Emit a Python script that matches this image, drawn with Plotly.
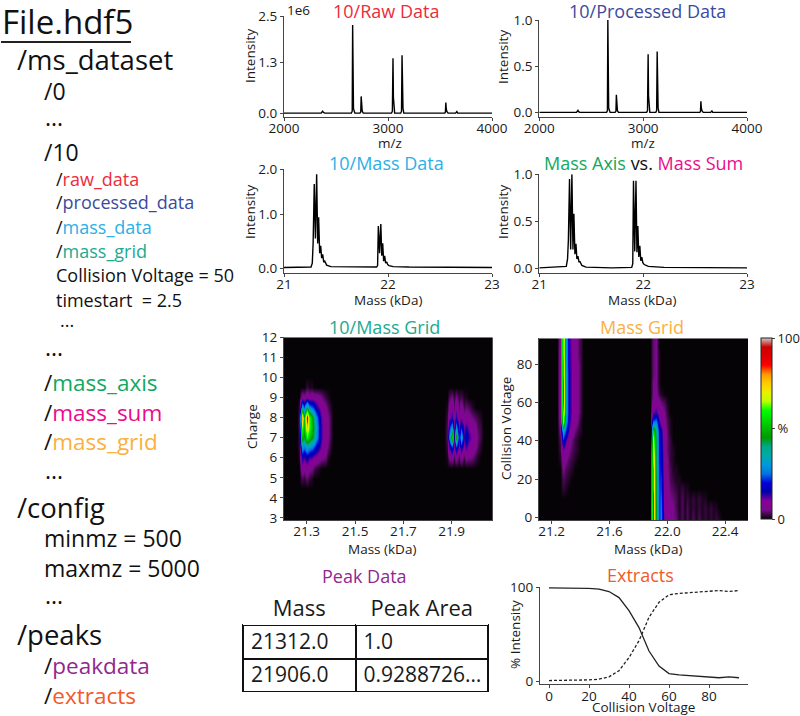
import numpy as np
import plotly.graph_objects as go

# ---------- data ----------
mz = [2000, 2358, 2366, 2372, 2378, 2392, 2440, 2446, 2452, 2648, 2656, 2660, 2664, 2668, 2674, 2682, 2730, 2738, 2742,
      2746, 2752, 2762, 3034, 3042, 3048, 3052, 3056, 3064, 3122, 3130, 3135, 3139, 3144, 3152, 3546, 3552, 3556, 3560,
      3566, 3578, 3650, 3656, 3662, 3670, 4000]
raw_intensity = [0.0, 0.0, 0.03, 0.05, 0.02, 0.0, 0.0, 0.01, 0.0, 0.0, 0.05, 2.27, 0.5, 0.12, 0.06, 0.0, 0.0, 0.03, 0.43,
                 0.15, 0.05, 0.0, 0.0, 0.05, 1.41, 0.4, 0.1, 0.0, 0.0, 0.05, 1.49, 0.4, 0.12, 0.0, 0.0, 0.03, 0.27,
                 0.12, 0.04, 0.0, 0.0, 0.02, 0.04, 0.0, 0.0]
proc_intensity = [0.0, 0.0, 0.012, 0.022, 0.008, 0.0, 0.0, 0.005, 0.0, 0.0, 0.02, 1.0, 0.22, 0.05, 0.025, 0.0, 0.0, 0.012,
                  0.19, 0.065, 0.02, 0.0, 0.0, 0.02, 0.63, 0.18, 0.045, 0.0, 0.0, 0.02, 0.66, 0.18, 0.05, 0.0, 0.0,
                  0.012, 0.12, 0.05, 0.018, 0.0, 0.0, 0.008, 0.016, 0.0, 0.0]

mass = [21.0, 21.26, 21.272, 21.28, 21.291, 21.302, 21.314, 21.324, 21.333, 21.343, 21.353, 21.362, 21.372, 21.382, 21.392,
        21.41, 21.45, 21.7, 21.89, 21.9, 21.907, 21.919, 21.931, 21.94, 21.949, 21.958, 21.968, 21.977, 21.987, 21.997,
        22.01, 22.05, 22.2, 23.0]
mass_data_y = [0.01, 0.02, 0.1, 0.5, 1.7, 0.6, 1.9, 0.5, 1.03, 0.3, 0.45, 0.2, 0.28, 0.12, 0.14, 0.06, 0.03, 0.02, 0.02,
               0.05, 0.85, 0.3, 0.89, 0.25, 0.5, 0.14, 0.25, 0.1, 0.13, 0.07, 0.05, 0.03, 0.02, 0.01]
mass_sum_y = [0.005, 0.02, 0.1, 0.3, 0.95, 0.2, 1.0, 0.2, 0.58, 0.15, 0.26, 0.1, 0.13, 0.07, 0.07, 0.03, 0.012, 0.005, 0.01,
              0.05, 0.93, 0.18, 0.93, 0.17, 0.45, 0.12, 0.24, 0.08, 0.12, 0.06, 0.04, 0.02, 0.01, 0.005]

# 10/Mass Grid: typed patches of the charge / mass map (% intensity)
charge_levels = [5.0, 5.5, 6.0, 6.5, 7.0, 7.5, 8.0, 8.5, 9.0, 9.5]
blob_a_start = 21.27
blob_a = [
    [0, 3, 2, 4, 2, 1, 0, 0, 0, 0, 0, 0, 0, 0, 0],
    [0, 8, 6, 8, 6, 5, 3, 2, 1, 0, 0, 0, 0, 0, 0],
    [1, 15, 13, 16, 13, 12, 10, 9, 7, 6, 5, 4, 1, 0, 0],
    [2, 30, 26, 32, 29, 26, 22, 18, 14, 11, 7, 6, 4, 1, 0],
    [2, 50, 44, 60, 52, 46, 40, 30, 20, 13, 9, 7, 5, 2, 0],
    [3, 62, 50, 76, 62, 50, 42, 32, 20, 13, 9, 7, 5, 2, 0],
    [3, 78, 50, 90, 62, 48, 38, 28, 18, 12, 8, 6, 5, 2, 0],
    [2, 32, 24, 42, 28, 24, 20, 15, 11, 9, 6, 5, 3, 1, 0],
    [0, 7, 6, 8, 7, 8, 7, 7, 6, 5, 3, 2, 1, 0, 0],
    [0, 0, 0, 2, 1, 1, 0, 0, 0, 0, 0, 0, 0, 0, 0],
]
blob_b_start = 21.88
blob_b = [
    [0, 0, 0, 0, 0, 0, 0, 0, 0, 0, 0, 0, 0, 0, 0, 0],
    [0, 0, 0, 0, 0, 0, 0, 0, 0, 0, 0, 0, 0, 0, 0, 0],
    [1, 5, 7, 3, 7, 3, 7, 3, 6, 5, 5, 4, 2, 1, 0, 0],
    [2, 12, 20, 9, 20, 9, 17, 9, 13, 9, 9, 7, 5, 3, 1, 0],
    [3, 26, 55, 15, 48, 14, 34, 14, 18, 13, 11, 9, 6, 4, 2, 0],
    [3, 20, 30, 12, 28, 11, 20, 11, 14, 10, 9, 7, 5, 3, 2, 0],
    [2, 9, 14, 6, 14, 6, 10, 6, 7, 6, 5, 4, 3, 2, 1, 0],
    [1, 6, 9, 4, 9, 4, 7, 3, 4, 3, 2, 1, 0, 0, 0, 0],
    [0, 3, 5, 2, 5, 2, 3, 1, 1, 0, 0, 0, 0, 0, 0, 0],
    [0, 0, 0, 0, 0, 0, 0, 0, 0, 0, 0, 0, 0, 0, 0, 0],
]

# Mass Grid: typed patches of the collision voltage / mass map (% intensity)
cv_levels = [0, 5, 10, 15, 20, 25, 30, 35, 40, 45, 50, 55, 60, 65, 70, 75, 80, 85, 90, 95]
cv_a_start = 21.26
cv_a = [
    [0, 0, 0, 0, 0, 0, 0, 0], [0, 0, 0, 0, 0, 0, 0, 0], [0, 0, 0, 0, 0, 0, 0, 0],
    [0, 2, 1, 0, 0, 0, 0, 0], [0, 3, 2, 1, 0, 0, 0, 0], [0, 5, 3, 2, 1, 0, 0, 0],
    [1, 7, 5, 3, 2, 1, 0, 0], [2, 11, 8, 5, 3, 2, 1, 0], [3, 20, 12, 7, 4, 2, 1, 0],
    [5, 32, 20, 11, 7, 4, 2, 1], [7, 68, 30, 14, 9, 7, 4, 1], [8, 80, 34, 15, 10, 8, 5, 2],
    [8, 84, 34, 15, 10, 8, 5, 2], [8, 86, 34, 15, 10, 8, 5, 2], [8, 84, 34, 15, 10, 8, 5, 2],
    [8, 82, 34, 15, 10, 8, 5, 2], [8, 82, 32, 14, 10, 8, 5, 2], [8, 80, 32, 14, 10, 7, 4, 2],
    [7, 80, 32, 14, 9, 7, 4, 2], [7, 80, 32, 14, 9, 7, 4, 2],
]
cv_b_start = 21.90
cv_b = [
    [86, 44, 22, 26, 11, 8, 7, 5, 4, 1, 3, 1, 3, 1, 3, 1, 3, 1, 2, 1, 2, 1, 2, 1, 0],
    [88, 44, 22, 25, 10, 8, 6, 5, 3, 1, 3, 1, 3, 1, 2, 1, 2, 1, 2, 1, 2, 1, 1, 0, 0],
    [86, 43, 22, 24, 10, 7, 5, 4, 3, 1, 3, 1, 2, 1, 2, 1, 2, 1, 1, 0, 0, 0, 0, 0, 0],
    [82, 43, 22, 22, 9, 6, 4, 3, 2, 1, 2, 1, 1, 0, 0, 0, 0, 0, 0, 0, 0, 0, 0, 0, 0],
    [82, 43, 21, 22, 8, 6, 3, 2, 1, 1, 0, 0, 0, 0, 0, 0, 0, 0, 0, 0, 0, 0, 0, 0, 0],
    [82, 42, 21, 20, 8, 5, 3, 1, 1, 0, 0, 0, 0, 0, 0, 0, 0, 0, 0, 0, 0, 0, 0, 0, 0],
    [78, 42, 20, 20, 7, 5, 2, 1, 0, 0, 0, 0, 0, 0, 0, 0, 0, 0, 0, 0, 0, 0, 0, 0, 0],
    [74, 42, 20, 18, 7, 4, 2, 1, 0, 0, 0, 0, 0, 0, 0, 0, 0, 0, 0, 0, 0, 0, 0, 0, 0],
    [68, 42, 19, 17, 7, 4, 2, 0, 0, 0, 0, 0, 0, 0, 0, 0, 0, 0, 0, 0, 0, 0, 0, 0, 0],
    [56, 40, 18, 15, 7, 4, 1, 0, 0, 0, 0, 0, 0, 0, 0, 0, 0, 0, 0, 0, 0, 0, 0, 0, 0],
    [24, 26, 13, 9, 6, 3, 1, 0, 0, 0, 0, 0, 0, 0, 0, 0, 0, 0, 0, 0, 0, 0, 0, 0, 0],
    [11, 13, 8, 7, 5, 2, 0, 0, 0, 0, 0, 0, 0, 0, 0, 0, 0, 0, 0, 0, 0, 0, 0, 0, 0],
    [7, 8, 6, 4, 3, 1, 0, 0, 0, 0, 0, 0, 0, 0, 0, 0, 0, 0, 0, 0, 0, 0, 0, 0, 0],
    [5, 6, 2, 1, 0, 0, 0, 0, 0, 0, 0, 0, 0, 0, 0, 0, 0, 0, 0, 0, 0, 0, 0, 0, 0],
    [5, 5, 1, 0, 0, 0, 0, 0, 0, 0, 0, 0, 0, 0, 0, 0, 0, 0, 0, 0, 0, 0, 0, 0, 0],
    [4, 5, 1, 0, 0, 0, 0, 0, 0, 0, 0, 0, 0, 0, 0, 0, 0, 0, 0, 0, 0, 0, 0, 0, 0],
    [4, 5, 1, 0, 0, 0, 0, 0, 0, 0, 0, 0, 0, 0, 0, 0, 0, 0, 0, 0, 0, 0, 0, 0, 0],
    [4, 5, 1, 0, 0, 0, 0, 0, 0, 0, 0, 0, 0, 0, 0, 0, 0, 0, 0, 0, 0, 0, 0, 0, 0],
    [4, 5, 0, 0, 0, 0, 0, 0, 0, 0, 0, 0, 0, 0, 0, 0, 0, 0, 0, 0, 0, 0, 0, 0, 0],
    [4, 5, 0, 0, 0, 0, 0, 0, 0, 0, 0, 0, 0, 0, 0, 0, 0, 0, 0, 0, 0, 0, 0, 0, 0],
]

extract_cv = [0, 5, 10, 15, 20, 25, 30, 35, 40, 45, 50, 55, 60, 65, 70, 75, 80, 85, 90, 95]
extract_solid = [99.5, 99.5, 99.4, 99.2, 98.8, 98, 95.5, 89, 75, 57, 32, 16, 8, 6.5, 5.8, 4.8, 4, 3.5, 4.5, 3.5]
extract_dashed = [0.5, 0.5, 0.6, 0.8, 1.2, 2, 4.5, 11, 25, 43, 68, 84, 92, 93.5, 94.2, 95.2, 96, 96.5, 95.5, 96.5]

table_mass = ["21312.0", "21906.0"]
table_area = ["1.0", "0.9288726…"]

RED, NAVY, SKY, TEAL = "#EE2B3B", "#3B4A9F", "#29B0E6", "#1BAA92"
GREEN, PINK, ORANGE, PURPLE, FLAME = "#12A85F", "#EC0B8C", "#FBB040", "#92278F", "#F15A29"


def span(t, c):
    return f'<span style="color:{c}">{t}</span>'


tree = [
    ("File.hdf5", 0, 21, 33), ("/ms_dataset", 15, 60, 27.5), ("/0", 42, 91, 23), ("...", 43, 117, 23), ("/10", 42, 152, 23),
    ("/" + span("raw_data", RED), 54, 179, 18), ("/" + span("processed_data", NAVY), 54, 202, 18),
    ("/" + span("mass_data", SKY), 54, 227, 18), ("/" + span("mass_grid", TEAL), 54, 251, 18),
    ("Collision Voltage = 50", 54, 275, 18), ("timestart  = 2.5", 54, 300, 18), ("...", 58, 320, 18), ("...", 43, 347, 23),
    ("/" + span("mass_axis", GREEN), 42, 382, 22.5), ("/" + span("mass_sum", PINK), 42, 412, 22.5),
    ("/" + span("mass_grid", ORANGE), 42, 441, 22.5), ("...", 43, 470, 23), ("/config", 15, 507, 27.5),
    ("minmz = 500", 42, 538, 23), ("maxmz = 5000", 42, 568, 23), ("...", 43, 595, 23), ("/peaks", 15, 634, 27.5),
    ("/" + span("peakdata", PURPLE), 42, 665, 22.5), ("/" + span("extracts", FLAME), 42, 695, 22.5),
]
titles = [
    (span("10/Raw Data", RED), 386, 11), (span("10/Processed Data", NAVY), 647, 11), (span("10/Mass Data", SKY), 386, 163),
    (span("Mass Axis", GREEN) + " vs. " + span("Mass Sum", PINK), 643, 163), (span("10/Mass Grid", TEAL), 384, 327),
    (span("Mass Grid", ORANGE), 642, 327), (span("Peak Data", PURPLE), 364, 576), (span("Extracts", FLAME), 640, 575),
]
axis_titles = [
    ("m/z", 390, 143, 0), ("m/z", 643, 143, 0), ("Intensity", 250, 56, -90), ("Intensity", 503, 57, -90),
    ("Mass (kDa)", 388, 300, 0), ("Mass (kDa)", 642, 300, 0), ("Intensity", 250, 212, -90), ("Intensity", 503, 212, -90),
    ("Charge", 252, 427, -90), ("Mass (kDa)", 382, 549, 0), ("Mass (kDa)", 648, 549, 0),
    ("Collision Voltage", 506, 428, -90), ("Collision Voltage", 643, 707, 0), ("% Intensity", 515, 635, -90),
]

W, H = 800, 716
FONT = "Open Sans"
INK = "#1a1a1a"
AX = "#444444"

spectral = [[0.0, "#060306"], [0.05, "#7a0a8c"], [0.1, "#880099"], [0.15, "#0000aa"], [0.2, "#0000dd"], [0.25, "#0077dd"],
            [0.3, "#0099dd"], [0.35, "#00aaaa"], [0.4, "#00aa88"], [0.45, "#009900"], [0.5, "#00bb00"], [0.55, "#00dd00"],
            [0.6, "#00ff00"], [0.65, "#bbff00"], [0.7, "#eeee00"], [0.75, "#ffcc00"], [0.8, "#ff9900"], [0.85, "#ff0000"],
            [0.9, "#dd0000"], [0.95, "#cc0000"], [1.0, "#cccccc"]]


def place(grid_x, grid_y, patches, y_levels):
    z = np.zeros((len(grid_y), len(grid_x)))
    step = grid_x[1] - grid_x[0]
    for start, rows in patches:
        for row, level in zip(rows, y_levels):
            j = int(np.argmin(np.abs(np.array(grid_y) - level)))
            i0 = int(round((start - grid_x[0]) / step))
            z[j, i0:i0 + len(row)] = row
    return z


gx1 = np.round(np.arange(21.20, 22.0801, 0.01), 2).tolist()
gy1 = np.arange(3, 12.01, 0.5).tolist()
z1 = place(gx1, gy1, [(blob_a_start, blob_a), (blob_b_start, blob_b)], charge_levels)
gx2 = np.round(np.arange(21.10, 22.5801, 0.02), 2).tolist()
z2 = place(gx2, cv_levels, [(cv_a_start, cv_a), (cv_b_start, cv_b)], cv_levels)

fig = go.Figure()
line = dict(color="#000000", width=1.4)
fig.add_trace(go.Scatter(x=mz, y=raw_intensity, mode="lines", line=line, xaxis="x", yaxis="y"))
fig.add_trace(go.Scatter(x=mz, y=proc_intensity, mode="lines", line=line, xaxis="x2", yaxis="y2"))
fig.add_trace(go.Scatter(x=mass, y=mass_data_y, mode="lines", line=line, xaxis="x3", yaxis="y3"))
fig.add_trace(go.Scatter(x=mass, y=mass_sum_y, mode="lines", line=line, xaxis="x4", yaxis="y4"))
fig.add_trace(go.Heatmap(x=gx1, y=gy1, z=z1, zmin=0, zmax=100, colorscale=spectral, zsmooth="best", showscale=False,
                         xaxis="x5", yaxis="y5"))
fig.add_trace(go.Heatmap(x=gx2, y=cv_levels, z=z2, zmin=0, zmax=100, colorscale=spectral, zsmooth="best", xaxis="x6",
                         yaxis="y6",
                         colorbar=dict(thicknessmode="pixels", thickness=11, lenmode="pixels", len=181, x=761 / W,
                                       xanchor="left", xpad=0, ypad=0, y=1 - 519 / H, yanchor="bottom",
                                       outlinecolor="#222222", outlinewidth=1, ticks="outside", ticklen=3,
                                       tickvals=[0, 50, 100], ticktext=["0", "%", "100"],
                                       tickfont=dict(family=FONT, size=13, color=INK))))
fig.add_trace(go.Scatter(x=extract_cv, y=extract_solid, mode="lines", line=dict(color="#222222", width=1.3), xaxis="x7",
                         yaxis="y7"))
fig.add_trace(go.Scatter(x=extract_cv, y=extract_dashed, mode="lines", line=dict(color="#222222", width=1.3, dash="3px,2px"),
                         xaxis="x7", yaxis="y7"))
fig.add_trace(go.Table(domain=dict(x=[243 / W, 489 / W], y=[1 - 692 / H, 1 - 591 / H]), columnwidth=[113, 133],
                       header=dict(values=["Mass", "Peak Area"], height=34, align="center",
                                   line=dict(color="rgba(255,255,255,0)", width=0), fill=dict(color="white"),
                                   font=dict(family=FONT, size=22, color=INK)),
                       cells=dict(values=[table_mass, table_area], height=33.5, align="left",
                                  line=dict(color="#111111", width=2), fill=dict(color="white"),
                                  font=dict(family=FONT, size=21, color=INK))))


def axis(n, kind, px0, px1, rng, tickvals, ticktext, anchor=None, tsize=13.5):
    domain = [px0 / W, px1 / W] if kind == "x" else [1 - px1 / H, 1 - px0 / H]
    a = dict(domain=domain, range=rng, tickmode="array", tickvals=tickvals, ticktext=ticktext, ticks="outside", ticklen=3,
             tickwidth=1, tickcolor=AX, showline=True, linecolor=AX, linewidth=1.2, showgrid=False, zeroline=False,
             anchor=anchor, automargin=False, tickfont=dict(family=FONT, size=tsize, color=INK))
    if kind == "x":
        a["ticklabelstandoff"] = -4
    fig.update_layout({f"{kind}axis" + ("" if n == 1 else str(n)): a})


xt, xl = [2000, 3000, 4000], ["2000", "3000", "4000"]
axis(1, "x", 284, 492, [2000, 4000], xt, xl, anchor="y")
axis(1, "y", 16, 117, [-0.1, 2.5], [0, 1.3, 2.5], ["0.0", "1.3", "2.5"], anchor="x")
axis(2, "x", 539.3, 747, [2000, 4000], xt, xl, anchor="y2")
axis(2, "y", 20, 117, [-0.05, 1.0], [0, 0.5, 1.0], ["0.0", "0.5", "1.0"], anchor="x2")
mt, ml = [21, 22, 23], ["21", "22", "23"]
axis(3, "x", 284, 492, [21, 23], mt, ml, anchor="y3")
axis(3, "y", 169.3, 273, [-0.1, 2.0], [0, 1.08, 2.0], ["0.0", "1.0", "2.0"], anchor="x3")
axis(4, "x", 539.3, 747, [21, 23], mt, ml, anchor="y4")
axis(4, "y", 174.3, 273, [-0.05, 1.0], [0, 0.5, 1.0], ["0.0", "0.5", "1.0"], anchor="x4")
axis(5, "x", 284, 492.7, [21.206, 22.07], [21.3, 21.5, 21.7, 21.9], ["21.3", "21.5", "21.7", "21.9"], anchor="y5")
axis(5, "y", 337.3, 520, [2.9, 12], list(range(3, 13)), [str(i) for i in range(3, 13)], anchor="x5")
axis(6, "x", 539, 748.3, [21.112, 22.561], [21.2, 21.6, 22.0, 22.4], ["21.2", "21.6", "22.0", "22.4"], anchor="y6")
axis(6, "y", 338.3, 520, [-1.4, 93.5], [0, 20, 40, 60, 80], ["0", "20", "40", "60", "80"], anchor="x6")
axis(7, "x", 540, 748, [-4.5, 99.5], [0, 20, 40, 60, 80], ["0", "20", "40", "60", "80"], anchor="y7")
axis(7, "y", 587.3, 684.3, [-3.5, 100], [0, 100], ["0", "100"], anchor="x7")

anns = []
for text, x, y, size in tree:
    anns.append(dict(text=text, x=x / W, y=1 - y / H, xref="paper", yref="paper", xanchor="left", yanchor="middle",
                     showarrow=False, font=dict(family=FONT, size=size, color="#111111")))
for text, x, y in titles:
    anns.append(dict(text=text, x=x / W, y=1 - y / H, xref="paper", yref="paper", xanchor="center", yanchor="middle",
                     showarrow=False, font=dict(family=FONT, size=18, color="#111111")))
for text, x, y, rot in axis_titles:
    anns.append(dict(text=text, x=x / W, y=1 - y / H, xref="paper", yref="paper", xanchor="center", yanchor="middle",
                     textangle=rot, showarrow=False, font=dict(family=FONT, size=13.5, color=INK)))
anns.append(dict(text="1e6", x=285 / W, y=1 - 10 / H, xref="paper", yref="paper", xanchor="left", yanchor="middle",
                 showarrow=False, font=dict(family=FONT, size=13.5, color=INK)))

fig.update_layout(width=W, height=H, autosize=False, margin=dict(l=0, r=0, t=0, b=0, autoexpand=False), paper_bgcolor="white",
                  plot_bgcolor="white", showlegend=False, annotations=anns,
                  shapes=[dict(type="line", xref="paper", yref="paper", x0=1 / W, x1=131 / W, y0=1 - 42 / H, y1=1 - 42 / H,
                               line=dict(color="#222222", width=2))])
fig.write_html("out.html", config={"displayModeBar": False, "responsive": False},
               post_script="document.body.style.margin='0';")
